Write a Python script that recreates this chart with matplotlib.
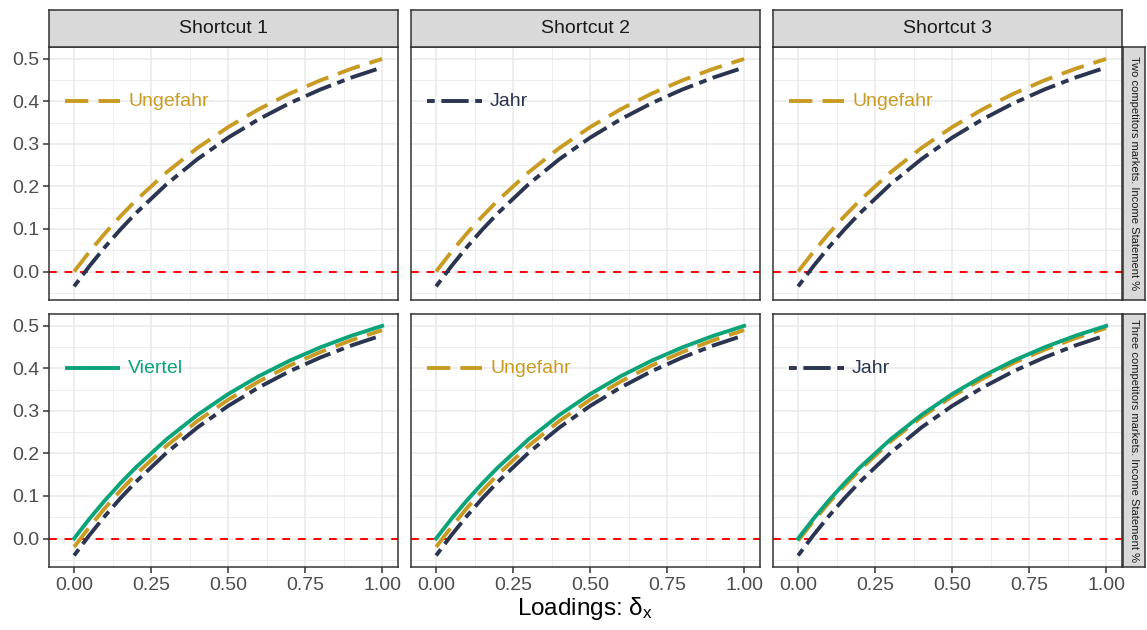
import matplotlib
matplotlib.use('Agg')
import matplotlib.pyplot as plt
from matplotlib.ticker import MultipleLocator

plt.rcParams['font.family'] = ['Liberation Sans', 'DejaVu Sans']
plt.rcParams['mathtext.fontset'] = 'custom'
plt.rcParams['mathtext.rm'] = 'Liberation Sans'
plt.rcParams['mathtext.it'] = 'Liberation Sans'

# data
x = [0.0, 0.05, 0.1, 0.15, 0.2, 0.3, 0.4, 0.5, 0.6, 0.7, 0.8, 0.9, 1.0]

# two competitors (top row, same in all shortcuts)
ungefahr_two = [0.0, 0.0465, 0.0897, 0.1297, 0.1668, 0.2332, 0.2904, 0.3396, 0.3819, 0.4184, 0.4497, 0.4768, 0.5]
jahr_two = [-0.035, 0.0129, 0.0574, 0.0986, 0.1368, 0.2052, 0.2641, 0.3148, 0.3584, 0.3960, 0.4282, 0.4561, 0.48]

# three competitors (bottom row)
viertel_three = [0.0, 0.0465, 0.0897, 0.1297, 0.1668, 0.2332, 0.2904, 0.3396, 0.3819, 0.4184, 0.4497, 0.4768, 0.5]
ungefahr_three = [-0.02, 0.0274, 0.0715, 0.1123, 0.1501, 0.2179, 0.2762, 0.3264, 0.3695, 0.4068, 0.4387, 0.4663, 0.49]
ungefahr_three_s3 = [-0.005, 0.041, 0.084, 0.124, 0.161, 0.228, 0.285, 0.334, 0.376, 0.413, 0.444, 0.471, 0.495]
jahr_three = [-0.04, 0.0082, 0.0529, 0.0944, 0.1328, 0.2016, 0.2609, 0.3118, 0.3556, 0.3935, 0.4259, 0.4540, 0.478]

shortcuts = ['Shortcut 1', 'Shortcut 2', 'Shortcut 3']
row_labels = ['Two competitors markets. Income Statement %',
              'Three competitors markets. Income Statement %']
labels_top = ['Ungefahr', 'Jahr', 'Ungefahr']
labels_bottom = ['Viertel', 'Ungefahr', 'Jahr']

GOLD = '#C99B23'
NAVY = '#2B3450'
GREEN = '#0BA47A'
styles = {
    'Ungefahr': dict(color=GOLD, ls=(0, (6, 2.6))),
    'Jahr': dict(color=NAVY, ls=(0, (2, 1.7, 7, 1.7))),
    'Viertel': dict(color=GREEN, ls='-'),
}
LW = 2.8

W, H = 1147, 630
fig = plt.figure(figsize=(W / 100, H / 100), dpi=100)

col_left = [49, 411, 773]
col_w = 349
row_top = [47, 314]
row_h = 253


def fx(px):
    return px / W


def fy(py):
    return 1 - py / H


def style_panel(ax, show_x, show_y):
    ax.set_xlim(-0.0815, 1.0515)
    ax.set_ylim(-0.067, 0.528)
    ax.xaxis.set_major_locator(MultipleLocator(0.25))
    ax.xaxis.set_minor_locator(MultipleLocator(0.125))
    ax.yaxis.set_major_locator(MultipleLocator(0.1))
    ax.yaxis.set_minor_locator(MultipleLocator(0.05))
    ax.grid(which='major', color='#EBEBEB', lw=1.2, zorder=0)
    ax.grid(which='minor', color='#EBEBEB', lw=0.6, zorder=0)
    ax.set_axisbelow(True)
    for s in ax.spines.values():
        s.set_color('#333333')
        s.set_linewidth(1.1)
    ax.tick_params(which='minor', length=0)
    ax.tick_params(which='major', length=4, width=1.1, color='#333333',
                   labelsize=14, labelcolor='#4D4D4D', pad=3)
    ax.xaxis.set_major_formatter(plt.FuncFormatter(lambda v, p: f'{v:.2f}'))
    ax.yaxis.set_major_formatter(plt.FuncFormatter(lambda v, p: f'{v:.1f}'))
    if not show_x:
        ax.tick_params(axis='x', which='both', length=0, labelbottom=False)
    if not show_y:
        ax.tick_params(axis='y', which='both', length=0, labelleft=False)


def key(ax, name):
    st = styles[name]
    ax.plot([-0.03, 0.15], [0.4, 0.4], color=st['color'], ls=st['ls'], lw=LW,
            solid_capstyle='butt', zorder=4)
    ax.text(0.175, 0.4, name, color=st['color'], fontsize=14, va='center', ha='left')


for r in range(2):
    for c in range(3):
        ax = fig.add_axes([fx(col_left[c]), fy(row_top[r] + row_h), fx(col_w), row_h / H])
        style_panel(ax, show_x=(r == 1), show_y=(c == 0))
        ax.axhline(0, color='#FF0000', lw=1.4, ls=(0, (4, 4)), zorder=2)
        if r == 0:
            ax.plot(x, ungefahr_two, lw=LW, zorder=3, **styles['Ungefahr'])
            ax.plot(x, jahr_two, lw=LW, zorder=3, **styles['Jahr'])
            key(ax, labels_top[c])
        else:
            gold = ungefahr_three_s3 if c == 2 else ungefahr_three
            ax.plot(x, jahr_three, lw=LW, zorder=3, **styles['Jahr'])
            ax.plot(x, gold, lw=LW, zorder=3, **styles['Ungefahr'])
            ax.plot(x, viertel_three, lw=LW, zorder=3, **styles['Viertel'])
            key(ax, labels_bottom[c])

# top strips
for c in range(3):
    sax = fig.add_axes([fx(col_left[c]), fy(47), fx(col_w), 37 / H])
    sax.set_facecolor('#D9D9D9')
    sax.set_xticks([])
    sax.set_yticks([])
    for s in sax.spines.values():
        s.set_color('#333333')
        s.set_linewidth(1.1)
    sax.text(0.5, 0.5, shortcuts[c], ha='center', va='center', fontsize=14,
             color='#1A1A1A', transform=sax.transAxes)

# right strips
for r in range(2):
    sax = fig.add_axes([fx(1123), fy(row_top[r] + row_h), fx(22), row_h / H])
    sax.set_facecolor('#D9D9D9')
    sax.set_xticks([])
    sax.set_yticks([])
    for s in sax.spines.values():
        s.set_color('#333333')
        s.set_linewidth(1.1)
    sax.text(0.5, 0.5, row_labels[r], ha='center', va='center', fontsize=8,
             rotation=-90, color='#1A1A1A', transform=sax.transAxes)

fig.text(fx(585), fy(609), r'Loadings: $\mathrm{\delta}_{\mathrm{x}}$', ha='center', va='center',
         fontsize=17.5, color='black')

fig.savefig('out.png', dpi=100)
